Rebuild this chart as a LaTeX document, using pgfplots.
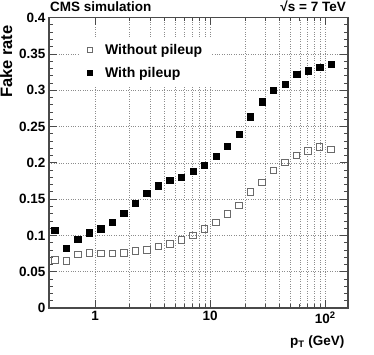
\documentclass[border=0pt]{standalone}
\usepackage{fontspec}
\setmainfont{Liberation Sans}
\usepackage{pgfplots}
\pgfplotsset{compat=1.18}
\usetikzlibrary{calc}
\definecolor{Frame}{HTML}{4A4A4A}
\definecolor{Open}{HTML}{6A6A6A}
\newcommand{\lab}{\bfseries\fontsize{13.5}{15}\selectfont}

% pT bin centre, fake rate
\pgfplotstableread{
x        y
0.4467   0.066
0.5623   0.065
0.7079   0.074
0.8913   0.076
1.122    0.075
1.413    0.075
1.778    0.076
2.239    0.0785
2.818    0.080
3.548    0.085
4.467    0.088
5.623    0.0935
7.079    0.100
8.913    0.109
11.22    0.1175
14.13    0.1295
17.78    0.141
22.39    0.160
28.18    0.173
35.48    0.1895
44.67    0.200
56.23    0.210
70.79    0.216
89.13    0.222
112.2    0.2185
}\nopileup

\pgfplotstableread{
x        y
0.4467   0.107
0.5623   0.0826
0.7079   0.0946
0.8913   0.1037
1.122    0.1093
1.413    0.1185
1.778    0.1304
2.239    0.144
2.818    0.1584
3.548    0.1685
4.467    0.176
5.623    0.1804
7.079    0.1887
8.913    0.197
11.22    0.209
14.13    0.223
17.78    0.2397
22.39    0.2635
28.18    0.284
35.48    0.2998
44.67    0.3085
56.23    0.322
70.79    0.3266
89.13    0.3315
112.2    0.3357
}\withpileup

\begin{document}
\begin{tikzpicture}
\begin{axis}[
  xmode=log,
  scale only axis,
  width=299pt,
  height=290.5pt,
  xmin=0.398, xmax=157.5,
  ymin=0, ymax=0.4,
  xtick={1,10,100},
  xticklabels={1,10,10\textsuperscript{2}},
  ytick={0,0.05,0.1,0.15,0.2,0.25,0.3,0.35,0.4},
  yticklabels={0,0.05,0.1,0.15,0.2,0.25,0.3,0.35,0.4},
  minor y tick num=4,
  xmajorgrids, xminorgrids, ymajorgrids,
  grid style={dotted, black!45, line width=0.45pt},
  tick align=inside,
  major tick length=8pt,
  minor tick length=4pt,
  tick style={Frame, line width=0.6pt},
  axis line style={Frame, line width=1.2pt},
  ticklabel style={font=\lab},
  xlabel={p\textsubscript{T} (GeV)},
  xlabel style={font=\lab, at={(rel axis cs:1,0)}, anchor=north east, yshift=-24pt},
  ylabel={Fake rate},
  ylabel style={font=\bfseries\fontsize{16.5}{18}\selectfont, at={(ticklabel cs:0.985)}, anchor=south east},
  legend style={at={(rel axis cs:0.1,0.935)}, anchor=north west, draw=none, fill=white,
    font=\bfseries\fontsize{14}{16}\selectfont, row sep=7pt, inner xsep=8pt, inner ysep=6pt,
    /tikz/every odd column/.append style={column sep=11pt}},
  legend cell align=left,
]
\addplot[only marks, mark=square, mark size=3.2pt, mark options={Open, line width=0.9pt},
  legend image post style={mark size=2.5pt}] table[x=x, y=y] {\nopileup};
\addlegendentry{Without pileup}
\addplot[only marks, mark=square*, mark size=3.2pt, mark options={black, fill=black},
  legend image post style={mark size=2.5pt}] table[x=x, y=y] {\withpileup};
\addlegendentry{With pileup}
\end{axis}
\node[font=\lab, anchor=base west, inner sep=0pt] at ($(current axis.north west)+(1pt,5.5pt)$) {CMS simulation};
\node[font=\lab, anchor=base east, inner sep=0pt] at ($(current axis.north east)+(-2pt,5.5pt)$) {√s = 7 TeV};
\pgfresetboundingbox
\path[use as bounding box] ($(current axis.south west)+(-49pt,-47pt)$) rectangle ($(current axis.north east)+(26pt,17.5pt)$);
\end{tikzpicture}
\end{document}
